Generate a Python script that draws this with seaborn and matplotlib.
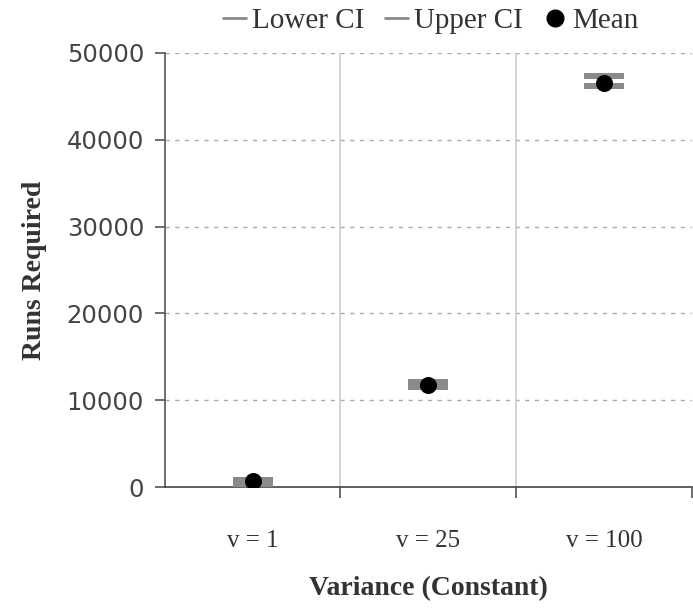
import numpy as np
import pandas as pd
import matplotlib
matplotlib.use('Agg')
import matplotlib.pyplot as plt
from matplotlib.lines import Line2D
import seaborn as sns

# values
categories = ['v = 1', 'v = 25', 'v = 100']
lower_ci = [400, 11500, 46150]
upper_ci = [850, 12100, 47350]
mean_runs = [650, 11800, 46550]

sns.set_style('white')
plt.rcParams['font.family'] = ['DejaVu Sans']

df = pd.DataFrame({
    'x': np.arange(len(categories)),
    'Lower CI': lower_ci,
    'Upper CI': upper_ci,
    'Mean': mean_runs,
})

fig = plt.figure(figsize=(6.93, 6.09), dpi=100)
ax = fig.add_axes([0.238, 0.2003, 0.76, 0.7127])

bar = [(-1, -0.13), (1, -0.13), (1, 0.13), (-1, 0.13)]
grey = '#8a8a8a'
for col in ['Lower CI', 'Upper CI']:
    sns.scatterplot(data=df, x='x', y=col, ax=ax, marker=bar, s=800,
                    color=grey, linewidth=0, zorder=3, legend=False)
sns.scatterplot(data=df, x='x', y='Mean', ax=ax, marker='o', s=150,
                color='black', linewidth=0, zorder=4, legend=False)

ax.set_xlim(-0.5, 2.5)
ax.set_ylim(0, 50000)
ax.set_yticks(np.arange(0, 50001, 10000))
ax.set_xticks(df['x'])
ax.set_xticklabels(categories, family='Liberation Serif', fontsize=18)
ax.set_xticks([0.5, 1.5, 2.5], minor=True)
ax.tick_params(axis='x', which='major', bottom=False, length=0, pad=31, colors='#333333')
ax.tick_params(axis='x', which='minor', bottom=True, length=8, width=1.2,
               color='#555555', direction='out')
ax.tick_params(axis='y', left=True, length=7, width=1.2, color='#555555', direction='out',
               labelsize=17.5, labelcolor='#444444', pad=8)

for v in [10000, 20000, 30000, 40000, 50000]:
    ax.axhline(v, color='#aaaaaa', lw=1, ls=(0, (3, 4)), zorder=1)
for v in [0.5, 1.5]:
    ax.axvline(v, color='#cccccc', lw=1.2, zorder=1)

for s in ['top', 'right']:
    ax.spines[s].set_visible(False)
ax.spines['left'].set_color('#555555')
ax.spines['bottom'].set_color('#444444')
ax.spines['left'].set_linewidth(1.2)
ax.spines['bottom'].set_linewidth(1.2)

ax.set_ylabel('Runs Required', family='Liberation Serif', fontweight='bold',
              fontsize=20, color='#333333', labelpad=14)
ax.set_xlabel('Variance (Constant)', family='Liberation Serif', fontweight='bold',
              fontsize=20, color='#333333', labelpad=17)

handles = [
    Line2D([], [], color=grey, lw=2),
    Line2D([], [], color=grey, lw=2),
    Line2D([], [], color='black', marker='o', ls='none', markersize=12),
]
fig.legend(handles, ['Lower CI', 'Upper CI', 'Mean'], loc='center',
           bbox_to_anchor=(0.622, 0.966), ncol=3, frameon=False,
           prop={'family': 'Liberation Serif', 'size': 21},
           handlelength=0.8, handletextpad=0.2, columnspacing=0.7,
           labelcolor='#333333')

fig.savefig('out.png', dpi=100)
